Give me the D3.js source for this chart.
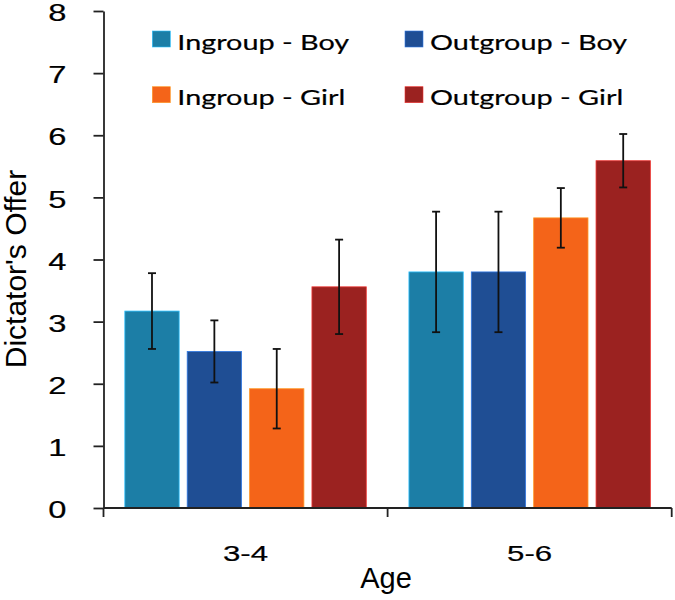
<!DOCTYPE html>
<html>
<head>
<meta charset="utf-8">
<script src="https://cdn.jsdelivr.net/npm/d3@7"></script>
<style>
  body { margin: 0; background: #fff; }
  svg { display: block; }
</style>
</head>
<body>
<div id="chart"></div>
<script>
const width = 675;
const height = 600;

// Data
const ages = ["3-4", "5-6"];
const seriesNames = ["Ingroup - Boy", "Outgroup - Boy", "Ingroup - Girl", "Outgroup - Girl"];
const seriesColors = ["#1c7ea6", "#1f4e94", "#f46419", "#9b2220"];
const yTicks = [0, 1, 2, 3, 4, 5, 6, 7, 8];

// means per series, one value per age group
const ingroupBoy = [3.17, 3.80];
const outgroupBoy = [2.52, 3.80];
const ingroupGirl = [1.92, 4.67];
const outgroupGirl = [3.56, 5.59];

// error bar half widths
const ingroupBoyErr = [0.61, 0.97];
const outgroupBoyErr = [0.50, 0.97];
const ingroupGirlErr = [0.64, 0.48];
const outgroupGirlErr = [0.76, 0.43];

const means = [ingroupBoy, outgroupBoy, ingroupGirl, outgroupGirl];
const errs = [ingroupBoyErr, outgroupBoyErr, ingroupGirlErr, outgroupGirlErr];

const rows = [];
ages.forEach((age, a) => {
    seriesNames.forEach((s, i) => {
        rows.push({ age, series: s, i, value: means[i][a], err: errs[i][a] });
    });
});

const plotLeft = 103.5, plotRight = 671.7, plotTop = 11, plotBottom = 508;
const tickStretch = 1.42; // the source figure is stretched sideways
const ink = "#222";

const svg = d3.select("#chart").append("svg")
    .attr("width", width)
    .attr("height", height);

const x = d3.scaleBand().domain(ages).range([plotLeft, plotRight]).padding(0);
const xInner = d3.scaleBand().domain(seriesNames).range([0, x.bandwidth()])
    .paddingInner(0.129).paddingOuter(0.342);
const y = d3.scaleLinear().domain([0, 8]).range([plotBottom, plotTop]);

// bars
svg.append("g")
    .selectAll("rect")
    .data(rows)
    .join("rect")
    .attr("x", d => x(d.age) + xInner(d.series))
    .attr("y", d => y(d.value))
    .attr("width", xInner.bandwidth())
    .attr("height", d => y(0) - y(d.value))
    .attr("fill", d => seriesColors[d.i])
    .attr("stroke", d => d3.color(seriesColors[d.i]).brighter(1.2))
    .attr("stroke-width", 0.8);

// error bars
const eb = svg.append("g")
    .attr("stroke", "#111")
    .attr("stroke-width", 1.8)
    .selectAll("g")
    .data(rows)
    .join("g")
    .attr("transform", d => `translate(${x(d.age) + xInner(d.series) + xInner.bandwidth() / 2},0)`);

eb.append("line")
    .attr("y1", d => y(d.value + d.err))
    .attr("y2", d => y(d.value - d.err));
eb.append("line")
    .attr("x1", -4).attr("x2", 4)
    .attr("y1", d => y(d.value + d.err))
    .attr("y2", d => y(d.value + d.err));
eb.append("line")
    .attr("x1", -4).attr("x2", 4)
    .attr("y1", d => y(d.value - d.err))
    .attr("y2", d => y(d.value - d.err));

// y axis
const yAxis = svg.append("g")
    .attr("transform", `translate(${plotLeft},0)`)
    .call(d3.axisLeft(y).tickValues(yTicks).tickSize(10).tickSizeOuter(0));

yAxis.select(".domain").attr("stroke", ink).attr("stroke-width", 1.8);
yAxis.selectAll(".tick line").attr("stroke", ink).attr("stroke-width", 1.8);
yAxis.selectAll(".tick text")
    .attr("x", -37 / tickStretch)
    .attr("dy", "0.42em")
    .attr("transform", `scale(${tickStretch},1)`)
    .attr("fill", "#000")
    .attr("stroke", "#000")
    .attr("stroke-width", 0.2)
    .style("font-family", "'Liberation Sans', Arial, sans-serif")
    .style("font-size", "23px");

// x axis: line, boundary ticks, centred labels
const xAxis = svg.append("g");
xAxis.append("line")
    .attr("x1", plotLeft).attr("x2", plotRight)
    .attr("y1", plotBottom).attr("y2", plotBottom)
    .attr("stroke", ink).attr("stroke-width", 1.8);

xAxis.selectAll(".bound")
    .data(ages.map(a => x(a)).concat([x.range()[1]]))
    .join("line")
    .attr("class", "bound")
    .attr("x1", d => d).attr("x2", d => d)
    .attr("y1", plotBottom).attr("y2", plotBottom + 9)
    .attr("stroke", ink).attr("stroke-width", 1.8);

xAxis.selectAll(".xlab")
    .data(ages)
    .join("text")
    .attr("class", "xlab")
    .attr("transform", d => `translate(${x(d) + x.bandwidth() / 2},${plotBottom + 53}) scale(${tickStretch},1)`)
    .attr("text-anchor", "middle")
    .attr("stroke", "#000")
    .attr("stroke-width", 0.2)
    .style("font-family", "'Liberation Sans', Arial, sans-serif")
    .style("font-size", "22px")
    .text(d => d);

// axis titles
svg.append("text")
    .attr("x", 386)
    .attr("y", 588)
    .attr("text-anchor", "middle")
    .style("font-family", "'Liberation Sans', Arial, sans-serif")
    .style("font-size", "29px")
    .text("Age");

svg.append("text")
    .attr("transform", "translate(25.5,269) rotate(-90)")
    .attr("text-anchor", "middle")
    .style("font-family", "'Liberation Sans', Arial, sans-serif")
    .style("font-size", "30px")
    .text("Dictator's Offer");

// legend, two columns by two rows
const legendStretch = 1.31;
const legend = svg.append("g")
    .selectAll("g")
    .data(seriesNames)
    .join("g")
    .attr("transform", (d, i) => `translate(${152.3 + (i % 2) * 252.7},${31 + Math.floor(i / 2) * 55.7})`);

legend.append("rect")
    .attr("width", 18)
    .attr("height", 16)
    .attr("fill", (d, i) => seriesColors[i])
    .attr("stroke", (d, i) => d3.color(seriesColors[i]).brighter(1.2))
    .attr("stroke-width", 0.6);

legend.append("text")
    .attr("transform", `translate(25,18.5) scale(${legendStretch},1)`)
    .attr("stroke", "#000")
    .attr("stroke-width", 0.2)
    .style("font-family", "Lato, 'Open Sans', sans-serif")
    .style("font-size", "22px")
    .text(d => d);
</script>
</body>
</html>
